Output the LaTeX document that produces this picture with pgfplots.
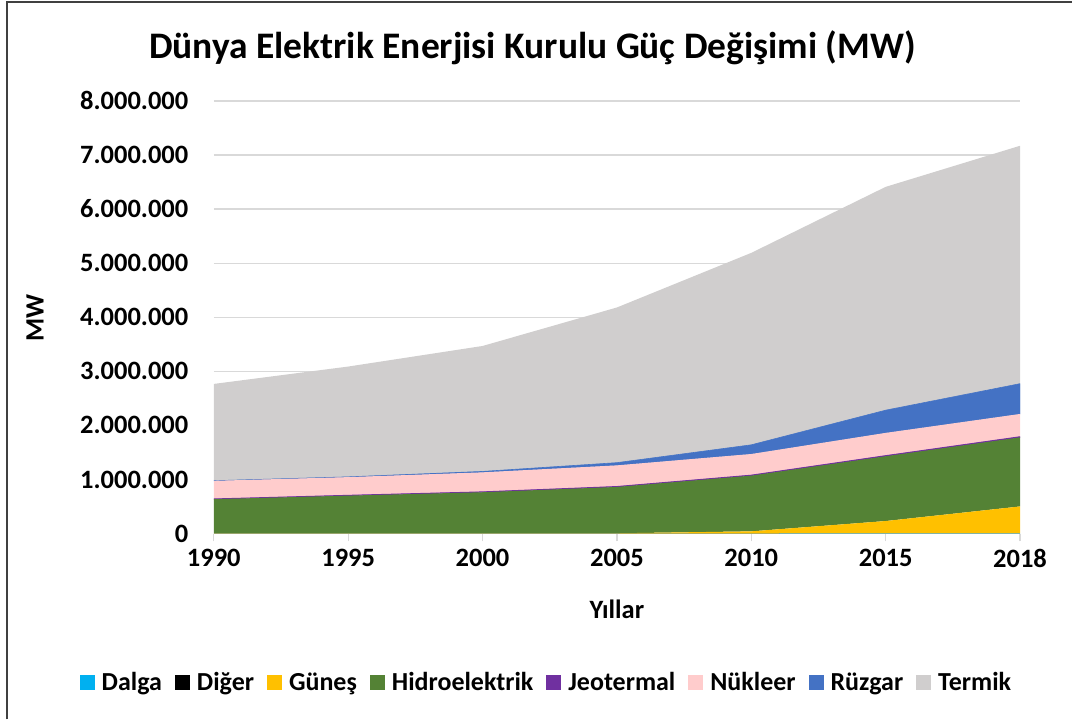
\documentclass[border=0pt]{standalone}
\usepackage{pgfplots}
\pgfplotsset{compat=1.18}
\usepackage{fontspec}
\setmainfont{Carlito}
\definecolor{cDalga}{RGB}{0,176,240}
\definecolor{cDiger}{RGB}{0,0,0}
\definecolor{cGunes}{RGB}{255,192,0}
\definecolor{cHidro}{RGB}{84,130,53}
\definecolor{cJeo}{RGB}{112,48,160}
\definecolor{cNuk}{RGB}{255,204,204}
\definecolor{cRuz}{RGB}{68,114,196}
\definecolor{cTer}{RGB}{208,206,206}
\definecolor{cGrid}{RGB}{217,217,217}
\definecolor{cFrame}{RGB}{64,64,64}
\begin{document}
\begin{tikzpicture}
\path (0pt,0pt) rectangle (1073pt,720pt);
\draw[cFrame, line width=2pt] (7.5pt,0pt) -- (7.5pt,717.5pt) -- (1073pt,717.5pt);
\node[font=\fontsize{37.5}{44}\selectfont\bfseries, anchor=center] at (533pt,672pt) {Dünya Elektrik Enerjisi Kurulu Güç Değişimi (MW)};
\begin{axis}[
  at={(214pt,186pt)}, anchor=south west,
  scale only axis, width=807pt, height=433pt,
  xmin=0, xmax=6, ymin=0, ymax=8000000,
  stack plots=y,
  axis lines=left,
  x axis line style={draw=cGrid, line width=1.2pt, -},
  y axis line style={draw=none, -},
  xtick={0,1,2,3,4,5,6},
  xticklabels={1990,1995,2000,2005,2010,2015,2018},
  xtick align=outside,
  xtick style={draw=cGrid, line width=1.2pt},
  major tick length=8pt,
  ytick={0,1000000,2000000,3000000,4000000,5000000,6000000,7000000,8000000},
  ytick style={draw=none},
  ymajorgrids, grid style={draw=cGrid, line width=1.2pt},
  scaled y ticks=false,
  /pgf/number format/assume math mode=true,
  /pgf/number format/1000 sep={.},
  /pgf/number format/fixed,
  tick label style={font=\fontsize{26.5}{30}\selectfont\bfseries},
  yticklabel style={anchor=east, xshift=-18pt},
  xticklabel style={anchor=north, yshift=-4pt},
  xlabel={Yıllar}, ylabel={MW},
  label style={font=\fontsize{26.5}{30}\selectfont\bfseries},
  xlabel style={at={(axis description cs:0.5,-0.1755)}, anchor=center},
  ylabel style={at={(axis description cs:-0.2218,0.4988)}, anchor=center},
  legend columns=8,
  legend style={at={(axis description cs:0.4126,-0.344)}, anchor=center, draw=none, fill=none,
    font=\fontsize{26}{30}\selectfont\bfseries,
    /tikz/every even column/.append style={column sep=11pt},
    /tikz/every odd column/.append style={column sep=5pt},
    nodes={inner sep=2pt}},
  legend image code/.code={\fill[#1, draw=none] (0pt,-7.5pt) rectangle (15pt,7.5pt);},
]
\addplot[fill=cDalga, draw=none] coordinates {(0,0) (1,0) (2,0) (3,0) (4,0) (5,500) (6,500)} \closedcycle;
\addplot[fill=cDiger, draw=none] coordinates {(0,0) (1,0) (2,0) (3,0) (4,0) (5,0) (6,0)} \closedcycle;
\addplot[fill=cGunes, draw=none] coordinates {(0,300) (1,500) (2,1000) (3,4000) (4,40000) (5,230000) (6,500000)} \closedcycle;
\addplot[fill=cHidro, draw=none] coordinates {(0,634000) (1,700000) (2,762000) (3,857000) (4,1030000) (5,1198000) (6,1277000)} \closedcycle;
\addplot[fill=cJeo, draw=cJeo, line width=0.8pt] coordinates {(0,6000) (1,7000) (2,8000) (3,9000) (4,10000) (5,12000) (6,13000)} \closedcycle;
\addplot[fill=cNuk, draw=none] coordinates {(0,334000) (1,335000) (2,360000) (3,390000) (4,390000) (5,420000) (6,420000)} \closedcycle;
\addplot[fill=cRuz, draw=cRuz, line width=0.6pt] coordinates {(0,2000) (1,5000) (2,17000) (3,50000) (4,170000) (5,420000) (6,560000)} \closedcycle;
\addplot[fill=cTer, draw=none] coordinates {(0,1790000) (1,2040000) (2,2320000) (3,2870000) (4,3550000) (5,4130000) (6,4400000)} \closedcycle;
\legend{Dalga,Diğer,Güneş,Hidroelektrik,Jeotermal,Nükleer,Rüzgar,Termik}
\end{axis}
\end{tikzpicture}
\end{document}
